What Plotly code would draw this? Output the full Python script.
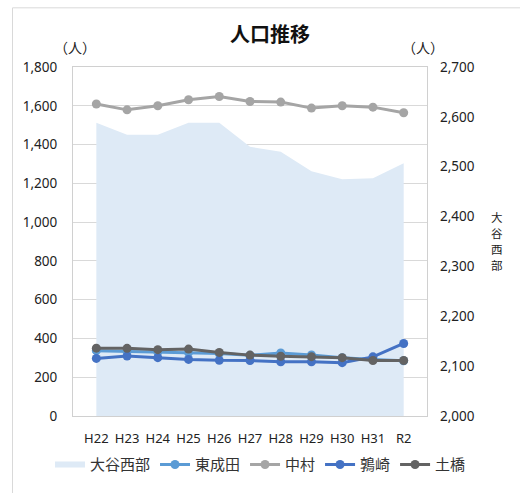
import plotly.graph_objects as go

years = ["H22", "H23", "H24", "H25", "H26", "H27", "H28", "H29", "H30", "H31", "R2"]
otani_nishi = [2588, 2564, 2564, 2588, 2588, 2540, 2530, 2491, 2475, 2477, 2507]
higashi_narita = [337, 333, 330, 327, 322, 313, 325, 315, 300, 292, 285]
nakamura = [1609, 1579, 1600, 1631, 1648, 1622, 1619, 1588, 1600, 1593, 1564]
uzurazaki = [297, 309, 301, 292, 287, 286, 280, 280, 275, 305, 374]
tsuchihashi = [350, 349, 342, 345, 328, 314, 308, 306, 301, 286, 286]

FONT = "Noto Sans, Noto Sans CJK JP"
JP = "Noto Sans CJK JP"

fig = go.Figure()
# area on the base (right-side) axis so the lines overlay it
fig.add_trace(go.Scatter(x=years, y=otani_nishi, name="大谷西部", yaxis="y",
                         mode="none", fill="tozeroy", fillcolor="#DEEAF6"))
line_series = [
    ("東成田", higashi_narita, "#5B9BD5"),
    ("中村", nakamura, "#A5A5A5"),
    ("鶉崎", uzurazaki, "#4472C4"),
    ("土橋", tsuchihashi, "#636363"),
]
for name, vals, col in line_series:
    fig.add_trace(go.Scatter(x=years, y=vals, name=name, mode="lines+markers",
                             yaxis="y2",
                             line=dict(color=col, width=3),
                             marker=dict(color=col, size=9)))

fig.update_layout(
    width=520, height=493,
    margin=dict(l=73, r=93, t=67, b=75),
    paper_bgcolor="white", plot_bgcolor="white",
    font=dict(family=FONT, size=13, color="#222222"),
    showlegend=True,
    legend=dict(orientation="h", x=(50 - 73) / 354, xanchor="left",
                y=(418 - 467) / 351, yanchor="middle",
                font=dict(family=JP, size=15, color="#333333"), itemwidth=30,
                tracegroupgap=0),
    xaxis=dict(type="category", showgrid=False, showline=True, linecolor="#D0D0D0",
               mirror=True, ticks="", tickfont=dict(size=13, color="#222222"),
               ticklabelstandoff=10),
    yaxis=dict(range=[2000, 2700], dtick=100, tickformat=",", side="right",
               showgrid=False, zeroline=False, showline=False,
               ticks="", ticklabelstandoff=12,
               tickfont=dict(size=13.5, color="#222222")),
    yaxis2=dict(range=[0, 1800], dtick=200, tickformat=",", side="left",
                overlaying="y", showgrid=True,
                gridcolor="#D9D9D9", showline=True, linecolor="#D0D0D0", mirror=True,
                zeroline=False, ticks="", ticklabelstandoff=12,
                tickfont=dict(size=13.5, color="#222222")),
)

def px_x(p):
    return (p - 73) / 354

def px_y(p):
    return (418 - p) / 351

fig.add_annotation(text="<b>人口推移</b>", xref="paper", yref="paper",
                   x=px_x(270), y=px_y(33), xanchor="center", yanchor="middle",
                   showarrow=False,
                   font=dict(family=JP, size=20, color="#111111"))
fig.add_annotation(text="（人）", xref="paper", yref="paper",
                   x=px_x(75), y=px_y(47), xanchor="center", yanchor="middle",
                   showarrow=False,
                   font=dict(family=JP, size=14, color="#222222"))
fig.add_annotation(text="（人）", xref="paper", yref="paper",
                   x=px_x(423), y=px_y(47), xanchor="center", yanchor="middle",
                   showarrow=False,
                   font=dict(family=JP, size=14, color="#222222"))
for i, ch in enumerate("大谷西部"):
    fig.add_annotation(text=ch, xref="paper", yref="paper",
                       x=px_x(497), y=px_y(218 + i * 16), xanchor="center",
                       yanchor="middle", showarrow=False, borderpad=0,
                       font=dict(family=JP, size=11.5, color="#222222"))

fig.add_shape(type="rect", xref="paper", yref="paper",
              x0=px_x(12.5), x1=1.4, y0=-0.4, y1=px_y(7.5),
              line=dict(color="#D9D9D9", width=1), layer="below")

fig.write_html("out.html")
